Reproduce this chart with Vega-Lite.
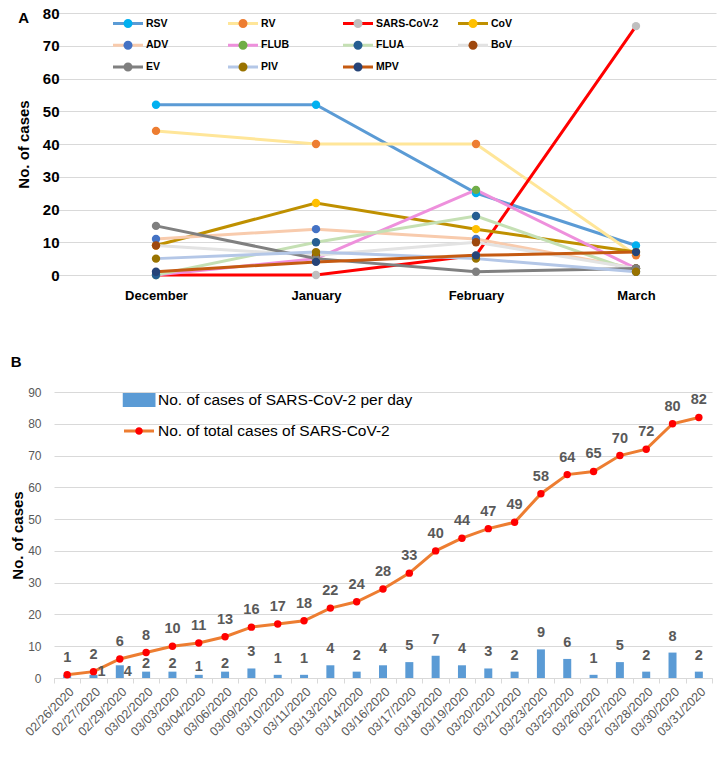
{
  "$schema": "https://vega.github.io/schema/vega-lite/v6.json",
  "background": "white",
  "padding": {"top": 6, "left": 10, "right": 5, "bottom": 5},
  "spacing": 53,
  "resolve": {"scale": {"color": "independent", "fill": "independent"}, "legend": {"color": "independent", "fill": "independent"}},
  "config": {
    "font": "Liberation Sans",
    "view": {"stroke": null},
    "axis": {"gridColor": "#D9D9D9", "gridWidth": 1}
  },
  "vconcat": [
    {
      "title": {"text": "A", "anchor": "start", "frame": "bounds", "fontSize": 15, "fontWeight": "bold", "color": "#000000", "offset": 0, "dy": 20, "dx": 2},
      "width": 662,
      "height": 262,
      "data": {"values": [
        {"series": "RSV", "month": "December", "cases": 52},
        {"series": "RSV", "month": "January", "cases": 52},
        {"series": "RSV", "month": "February", "cases": 25},
        {"series": "RSV", "month": "March", "cases": 9},
        {"series": "RV", "month": "December", "cases": 44},
        {"series": "RV", "month": "January", "cases": 40},
        {"series": "RV", "month": "February", "cases": 40},
        {"series": "RV", "month": "March", "cases": 6},
        {"series": "SARS-CoV-2", "month": "December", "cases": 0},
        {"series": "SARS-CoV-2", "month": "January", "cases": 0},
        {"series": "SARS-CoV-2", "month": "February", "cases": 6},
        {"series": "SARS-CoV-2", "month": "March", "cases": 76},
        {"series": "CoV", "month": "December", "cases": 9},
        {"series": "CoV", "month": "January", "cases": 22},
        {"series": "CoV", "month": "February", "cases": 14},
        {"series": "CoV", "month": "March", "cases": 7},
        {"series": "ADV", "month": "December", "cases": 11},
        {"series": "ADV", "month": "January", "cases": 14},
        {"series": "ADV", "month": "February", "cases": 11},
        {"series": "ADV", "month": "March", "cases": 2},
        {"series": "FLUB", "month": "December", "cases": 0},
        {"series": "FLUB", "month": "January", "cases": 5},
        {"series": "FLUB", "month": "February", "cases": 26},
        {"series": "FLUB", "month": "March", "cases": 2},
        {"series": "FLUA", "month": "December", "cases": 0},
        {"series": "FLUA", "month": "January", "cases": 10},
        {"series": "FLUA", "month": "February", "cases": 18},
        {"series": "FLUA", "month": "March", "cases": 1},
        {"series": "BoV", "month": "December", "cases": 9},
        {"series": "BoV", "month": "January", "cases": 6},
        {"series": "BoV", "month": "February", "cases": 10},
        {"series": "BoV", "month": "March", "cases": 2},
        {"series": "EV", "month": "December", "cases": 15},
        {"series": "EV", "month": "January", "cases": 5},
        {"series": "EV", "month": "February", "cases": 1},
        {"series": "EV", "month": "March", "cases": 2},
        {"series": "PIV", "month": "December", "cases": 5},
        {"series": "PIV", "month": "January", "cases": 7},
        {"series": "PIV", "month": "February", "cases": 5},
        {"series": "PIV", "month": "March", "cases": 1},
        {"series": "MPV", "month": "December", "cases": 1},
        {"series": "MPV", "month": "January", "cases": 4},
        {"series": "MPV", "month": "February", "cases": 6},
        {"series": "MPV", "month": "March", "cases": 7}
      ]},
      "encoding": {
        "x": {
          "field": "month", "type": "ordinal",
          "scale": {"type": "point", "domain": ["December", "January", "February", "March"], "padding": 0.56875, "align": 0.5604},
          "axis": {"title": null, "labelAngle": 0, "labelFontSize": 13, "labelFontWeight": "bold", "labelColor": "#000000", "labelPadding": 14, "domain": false, "ticks": false, "grid": false}
        },
        "y": {
          "field": "cases", "type": "quantitative",
          "scale": {"domain": [0, 80], "nice": false},
          "axis": {"values": [0, 10, 20, 30, 40, 50, 60, 70, 80], "title": "No. of cases", "titleFontSize": 15, "titleFontWeight": "bold", "titleColor": "#000000", "labelFontSize": 15, "labelFontWeight": "bold", "labelColor": "#000000", "labelPadding": 17, "offset": -22, "titlePadding": 11, "domain": false, "ticks": false, "grid": true}
        }
      },
      "layer": [
        {
          "mark": {"type": "line", "strokeWidth": 3},
          "encoding": {
            "order": {"value": null},
            "color": {
              "field": "series", "type": "nominal",
              "scale": {
                "domain": ["RSV", "RV", "SARS-CoV-2", "CoV", "ADV", "FLUB", "FLUA", "BoV", "EV", "PIV", "MPV"],
                "range": ["#5B9BD5", "#FFE699", "#FF0000", "#BF9000", "#F8CBAD", "#EE90DC", "#C5E0B4", "#E3E3E3", "#808080", "#B4C7E7", "#C55A11"]
              },
              "legend": {
                "orient": "none", "legendX": 57.5, "legendY": 3.5, "columns": 4, "direction": "horizontal", "title": null,
                "symbolType": "stroke", "symbolSize": 900, "symbolStrokeWidth": 3,
                "labelFontSize": 10.5, "labelFontWeight": "bold", "labelColor": "#000000", "labelOffset": 1.5,
                "clipHeight": 14, "rowPadding": 7.7, "columnPadding": 18, "gridAlign": "all", "padding": 0
              }
            }
          }
        },
        {
          "mark": {"type": "point", "filled": true, "size": 70, "opacity": 1, "strokeWidth": 0},
          "encoding": {
            "fill": {
              "field": "series", "type": "nominal",
              "sort": ["RSV", "RV", "SARS-CoV-2", "CoV", "ADV", "FLUB", "FLUA", "BoV", "EV", "PIV", "MPV"],
              "scale": {
                "range": ["#00B0F0", "#ED7D31", "#BFBFBF", "#FFC000", "#4472C4", "#70AD47", "#255E91", "#9E480E", "#7F7F7F", "#997300", "#264478"]
              },
              "legend": {
                "orient": "none", "legendX": 57.5, "legendY": 3.5, "columns": 4, "direction": "horizontal", "title": null,
                "symbolType": "M-0.3,0A0.3,0.3,0,1,1,0.3,0A0.3,0.3,0,1,1,-0.3,0Z", "symbolSize": 900, "symbolStrokeWidth": 3, "symbolStrokeColor": "transparent",
                "labelFontSize": 10.5, "labelFontWeight": "bold", "labelColor": "#000000", "labelOpacity": 0, "labelOffset": 1.5,
                "clipHeight": 14, "rowPadding": 7.7, "columnPadding": 18, "gridAlign": "all", "padding": 0
              }
            }
          }
        }
      ]
    },
    {
      "title": {"text": "B", "anchor": "start", "frame": "bounds", "fontSize": 15, "fontWeight": "bold", "color": "#000000", "offset": 16},
      "width": 658,
      "height": 286,
      "data": {"values": [
        {"date": "02/26/2020", "daily": 1, "total": 1},
        {"date": "02/27/2020", "daily": 1, "total": 2},
        {"date": "02/29/2020", "daily": 4, "total": 6},
        {"date": "03/02/2020", "daily": 2, "total": 8},
        {"date": "03/03/2020", "daily": 2, "total": 10},
        {"date": "03/04/2020", "daily": 1, "total": 11},
        {"date": "03/06/2020", "daily": 2, "total": 13},
        {"date": "03/09/2020", "daily": 3, "total": 16},
        {"date": "03/10/2020", "daily": 1, "total": 17},
        {"date": "03/11/2020", "daily": 1, "total": 18},
        {"date": "03/13/2020", "daily": 4, "total": 22},
        {"date": "03/14/2020", "daily": 2, "total": 24},
        {"date": "03/16/2020", "daily": 4, "total": 28},
        {"date": "03/17/2020", "daily": 5, "total": 33},
        {"date": "03/18/2020", "daily": 7, "total": 40},
        {"date": "03/19/2020", "daily": 4, "total": 44},
        {"date": "03/20/2020", "daily": 3, "total": 47},
        {"date": "03/21/2020", "daily": 2, "total": 49},
        {"date": "03/23/2020", "daily": 9, "total": 58},
        {"date": "03/25/2020", "daily": 6, "total": 64},
        {"date": "03/26/2020", "daily": 1, "total": 65},
        {"date": "03/27/2020", "daily": 5, "total": 70},
        {"date": "03/28/2020", "daily": 2, "total": 72},
        {"date": "03/30/2020", "daily": 8, "total": 80},
        {"date": "03/31/2020", "daily": 2, "total": 82}
      ]},
      "encoding": {
        "x": {
          "field": "date", "type": "ordinal",
          "scale": {"type": "band", "paddingInner": 0, "paddingOuter": 0},
          "axis": {"title": null, "labelAngle": -45, "labelFontSize": 12.5, "labelColor": "#595959", "labelPadding": 2, "domain": true, "domainColor": "#D9D9D9", "ticks": true, "tickBand": "extent", "tickColor": "#D9D9D9", "tickSize": 5, "grid": false}
        }
      },
      "layer": [
        {
          "mark": {"type": "bar", "width": 8},
          "encoding": {
            "y": {
              "field": "daily", "type": "quantitative",
              "scale": {"domain": [0, 90], "nice": false},
              "axis": {"values": [0, 10, 20, 30, 40, 50, 60, 70, 80, 90], "title": "No. of cases", "titleFontSize": 15, "titleFontWeight": "bold", "titleColor": "#000000", "labelFontSize": 12, "labelColor": "#595959", "labelPadding": 13, "titlePadding": 2, "domain": false, "ticks": false, "grid": true}
            },
            "color": {
              "datum": "No. of cases of SARS-CoV-2 per day",
              "scale": {"range": ["#5B9BD5", "#ED7D31"]},
              "legend": {
                "orient": "none", "legendX": 68.5, "legendY": 0, "direction": "vertical", "title": null,
                "symbolType": "stroke", "symbolSize": 900, "symbolStrokeWidth": 3,
                "labelFontSize": 15.5, "labelColor": "#000000", "labelOffset": 2.5, "labelLimit": 400,
                "clipHeight": 16, "rowPadding": 14, "padding": 0,
                "encode": {"symbols": {"update": {
                  "shape": {"signal": "datum.value === 'No. of cases of SARS-CoV-2 per day' ? 'M-1,-0.37H1V0.37H-1Z' : 'stroke'"},
                  "fill": {"signal": "datum.value === 'No. of cases of SARS-CoV-2 per day' ? '#5B9BD5' : 'transparent'"},
                  "stroke": {"signal": "datum.value === 'No. of cases of SARS-CoV-2 per day' ? 'transparent' : '#ED7D31'"}
                }}}
              }
            }
          }
        },
        {
          "mark": {"type": "line", "strokeWidth": 3},
          "encoding": {
            "y": {
              "field": "total", "type": "quantitative",
              "scale": {"domain": [0, 90], "nice": false},
              "axis": {"values": [0, 10, 20, 30, 40, 50, 60, 70, 80, 90], "title": "No. of cases", "titleFontSize": 15, "titleFontWeight": "bold", "titleColor": "#000000", "labelFontSize": 12, "labelColor": "#595959", "labelPadding": 13, "titlePadding": 2, "domain": false, "ticks": false, "grid": true}
            },
            "order": {"value": null},
            "color": {"datum": "No. of total cases of SARS-CoV-2"}
          }
        },
        {
          "mark": {"type": "point", "filled": true, "size": 55, "opacity": 1, "strokeWidth": 0},
          "encoding": {
            "y": {
              "field": "total", "type": "quantitative",
              "scale": {"domain": [0, 90], "nice": false},
              "axis": {"values": [0, 10, 20, 30, 40, 50, 60, 70, 80, 90], "title": "No. of cases", "titleFontSize": 15, "titleFontWeight": "bold", "titleColor": "#000000", "labelFontSize": 12, "labelColor": "#595959", "labelPadding": 13, "titlePadding": 2, "domain": false, "ticks": false, "grid": true}
            },
            "fill": {
              "datum": "No. of total cases of SARS-CoV-2",
              "scale": {"domain": ["No. of cases of SARS-CoV-2 per day", "No. of total cases of SARS-CoV-2"], "range": ["transparent", "#FF0000"]},
              "legend": {
                "orient": "none", "legendX": 68.5, "legendY": 0, "direction": "vertical", "title": null,
                "symbolType": "M-0.25,0A0.25,0.25,0,1,1,0.25,0A0.25,0.25,0,1,1,-0.25,0Z", "symbolSize": 900, "symbolStrokeWidth": 3, "symbolStrokeColor": "transparent",
                "labelFontSize": 15.5, "labelColor": "#000000", "labelOpacity": 0, "labelOffset": 2.5, "labelLimit": 400,
                "clipHeight": 16, "rowPadding": 14, "padding": 0
              }
            }
          }
        },
        {
          "mark": {"type": "text", "dy": -17, "fontSize": 14.5, "fontWeight": "bold", "color": "#595959"},
          "encoding": {
            "y": {
              "field": "total", "type": "quantitative",
              "scale": {"domain": [0, 90], "nice": false},
              "axis": {"values": [0, 10, 20, 30, 40, 50, 60, 70, 80, 90], "title": "No. of cases", "titleFontSize": 15, "titleFontWeight": "bold", "titleColor": "#000000", "labelFontSize": 12, "labelColor": "#595959", "labelPadding": 13, "titlePadding": 2, "domain": false, "ticks": false, "grid": true}
            },
            "text": {"field": "total", "type": "quantitative"}
          }
        },
        {
          "transform": [{"filter": "indexof(['02/26/2020','02/27/2020','02/29/2020','03/02/2020','03/03/2020','03/04/2020','03/06/2020'], datum.date) < 0"}],
          "mark": {"type": "text", "dy": -16, "fontSize": 14.5, "fontWeight": "bold", "color": "#595959"},
          "encoding": {
            "y": {
              "field": "daily", "type": "quantitative",
              "scale": {"domain": [0, 90], "nice": false},
              "axis": {"values": [0, 10, 20, 30, 40, 50, 60, 70, 80, 90], "title": "No. of cases", "titleFontSize": 15, "titleFontWeight": "bold", "titleColor": "#000000", "labelFontSize": 12, "labelColor": "#595959", "labelPadding": 13, "titlePadding": 2, "domain": false, "ticks": false, "grid": true}
            },
            "text": {"field": "daily", "type": "quantitative"}
          }
        },
        {
          "transform": [{"filter": "indexof(['03/02/2020','03/03/2020','03/04/2020','03/06/2020'], datum.date) >= 0"}],
          "mark": {"type": "text", "dy": -8, "fontSize": 14.5, "fontWeight": "bold", "color": "#595959"},
          "encoding": {
            "y": {
              "field": "daily", "type": "quantitative",
              "scale": {"domain": [0, 90], "nice": false},
              "axis": {"values": [0, 10, 20, 30, 40, 50, 60, 70, 80, 90], "title": "No. of cases", "titleFontSize": 15, "titleFontWeight": "bold", "titleColor": "#000000", "labelFontSize": 12, "labelColor": "#595959", "labelPadding": 13, "titlePadding": 2, "domain": false, "ticks": false, "grid": true}
            },
            "text": {"field": "daily", "type": "quantitative"}
          }
        },
        {
          "transform": [{"filter": "indexof(['02/27/2020','02/29/2020'], datum.date) >= 0"}],
          "mark": {"type": "text", "dx": 8, "fontSize": 14.5, "fontWeight": "bold", "color": "#595959"},
          "encoding": {
            "y": {
              "datum": 2,
              "scale": {"domain": [0, 90], "nice": false},
              "axis": {"values": [0, 10, 20, 30, 40, 50, 60, 70, 80, 90], "title": "No. of cases", "titleFontSize": 15, "titleFontWeight": "bold", "titleColor": "#000000", "labelFontSize": 12, "labelColor": "#595959", "labelPadding": 13, "titlePadding": 2, "domain": false, "ticks": false, "grid": true}
            },
            "text": {"field": "daily", "type": "quantitative"}
          }
        }
      ]
    }
  ]
}
